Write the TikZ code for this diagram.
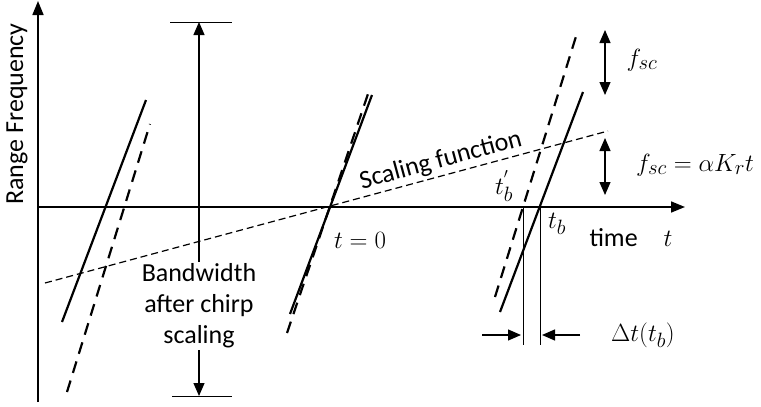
\documentclass[tikz,border=0pt]{standalone}
\usepackage{fontspec}
\setsansfont{Carlito}
\usetikzlibrary{positioning, arrows.meta}

\begin{document}
\begin{tikzpicture}[
    x=1pt, y=-1pt,
    axis/.style={line width=1.6pt, -{Triangle[length=14pt,width=11pt]}},
    chirp/.style={line width=2.2pt},
    scaled/.style={line width=2.2pt, dash pattern=on 12pt off 8pt},
    scalefn/.style={line width=1.2pt, dash pattern=on 7pt off 4pt},
    dim/.style={line width=1.2pt, -{Triangle[length=13pt,width=11pt]}},
    twodim/.style={line width=1.2pt, {Triangle[length=13pt,width=11pt]}-{Triangle[length=13pt,width=11pt]}},
    txt/.style={font=\sffamily\fontsize{26}{31}\selectfont},
    mtxt/.style={font=\fontsize{31}{35}\selectfont, inner sep=1pt}
    ]
  \useasboundingbox (0,0) rectangle (761,407);

  % axes
  \coordinate (O) at (38,207);
  \coordinate (ytop) at (38,1);
  \coordinate (ybot) at (38,402);
  \coordinate (xend) at (685,207);
  \draw[axis] (ybot) -- (ytop);
  \draw[axis] (O) -- (xend);
  \node[txt, rotate=90] (ylab) at (17,114) {Range Frequency};
  \node[txt] (xlab) at (631,238) {time\quad$t$};

  % scaling function
  \coordinate (sfa) at (45,283);
  \coordinate (sfb) at (608,131);
  \draw[scalefn] (sfa) -- (sfb)
    node[txt, pos=0.71, sloped, above=2pt, inner sep=1pt] (sflab) {Scaling function};

  % chirps: solid = before, dashed = after scaling
  \coordinate (l1) at (62,322);   \coordinate (l2) at (146,100);
  \coordinate (l3) at (67,392);   \coordinate (l4) at (150,124);
  \coordinate (m1) at (290,314);  \coordinate (m2) at (372,95);
  \coordinate (m3) at (287,333);  \coordinate (m4) at (370,88);
  \coordinate (r1) at (500,312);  \coordinate (r2) at (583,92);
  \coordinate (r3) at (495,297);  \coordinate (r4) at (578,30);
  \draw[chirp] (l1) -- (l2);
  \draw[scaled] (l3) -- (l4);
  \draw[chirp] (m1) -- (m2);
  \draw[scaled] (m3) -- (m4);
  \draw[chirp] (r1) -- (r2);
  \draw[scaled] (r3) -- (r4);
  \node[mtxt] (t0) at (360,240) {$t=0$};

  % bandwidth
  \node[txt, align=center, inner sep=2pt] (bw) at (199,306) {Bandwidth\\after chirp\\scaling};
  \coordinate (bwtop) at (199,22);
  \coordinate (bwbot) at (199,396);
  \draw[dim] (bw) -- (bwtop);
  \draw[dim] (bw) -- (bwbot);
  \draw[line width=1pt] ([xshift=-29pt]bwtop) -- ([xshift=33pt]bwtop);
  \draw[line width=1pt] ([xshift=-27pt]bwbot) -- ([xshift=33pt]bwbot);

  % shift of t_b
  \coordinate (tb1) at (523,208); \coordinate (tb1e) at (523,345);
  \coordinate (tb2) at (540,208); \coordinate (tb2e) at (540,345);
  \draw[line width=1pt] (tb1) -- (tb1e);
  \draw[line width=1pt] (tb2) -- (tb2e);
  \coordinate (dl) at (482,335); \coordinate (dle) at (521,335);
  \coordinate (dr) at (580,335); \coordinate (dre) at (542,335);
  \draw[dim] (dl) -- (dle);
  \draw[dim] (dr) -- (dre);
  \node[mtxt] (dtlab) at (643,335) {$\Delta t(t_b)$};
  \node[mtxt] (tbp) at (504,186) {$t_b^{'}$};
  \node[mtxt] (tb) at (557,224) {$t_b$};

  % frequency shifts
  \coordinate (fa) at (605,30);  \coordinate (fb) at (605,95);
  \coordinate (fc) at (605,138); \coordinate (fd) at (605,195);
  \draw[twodim] (fa) -- (fb);
  \draw[twodim] (fc) -- (fd);
  \node[mtxt] (fsc) at (642,60) {$f_{sc}$};
  \node[mtxt] (fsck) at (695,165) {$f_{sc}=\alpha K_r t$};
\end{tikzpicture}
\end{document}
